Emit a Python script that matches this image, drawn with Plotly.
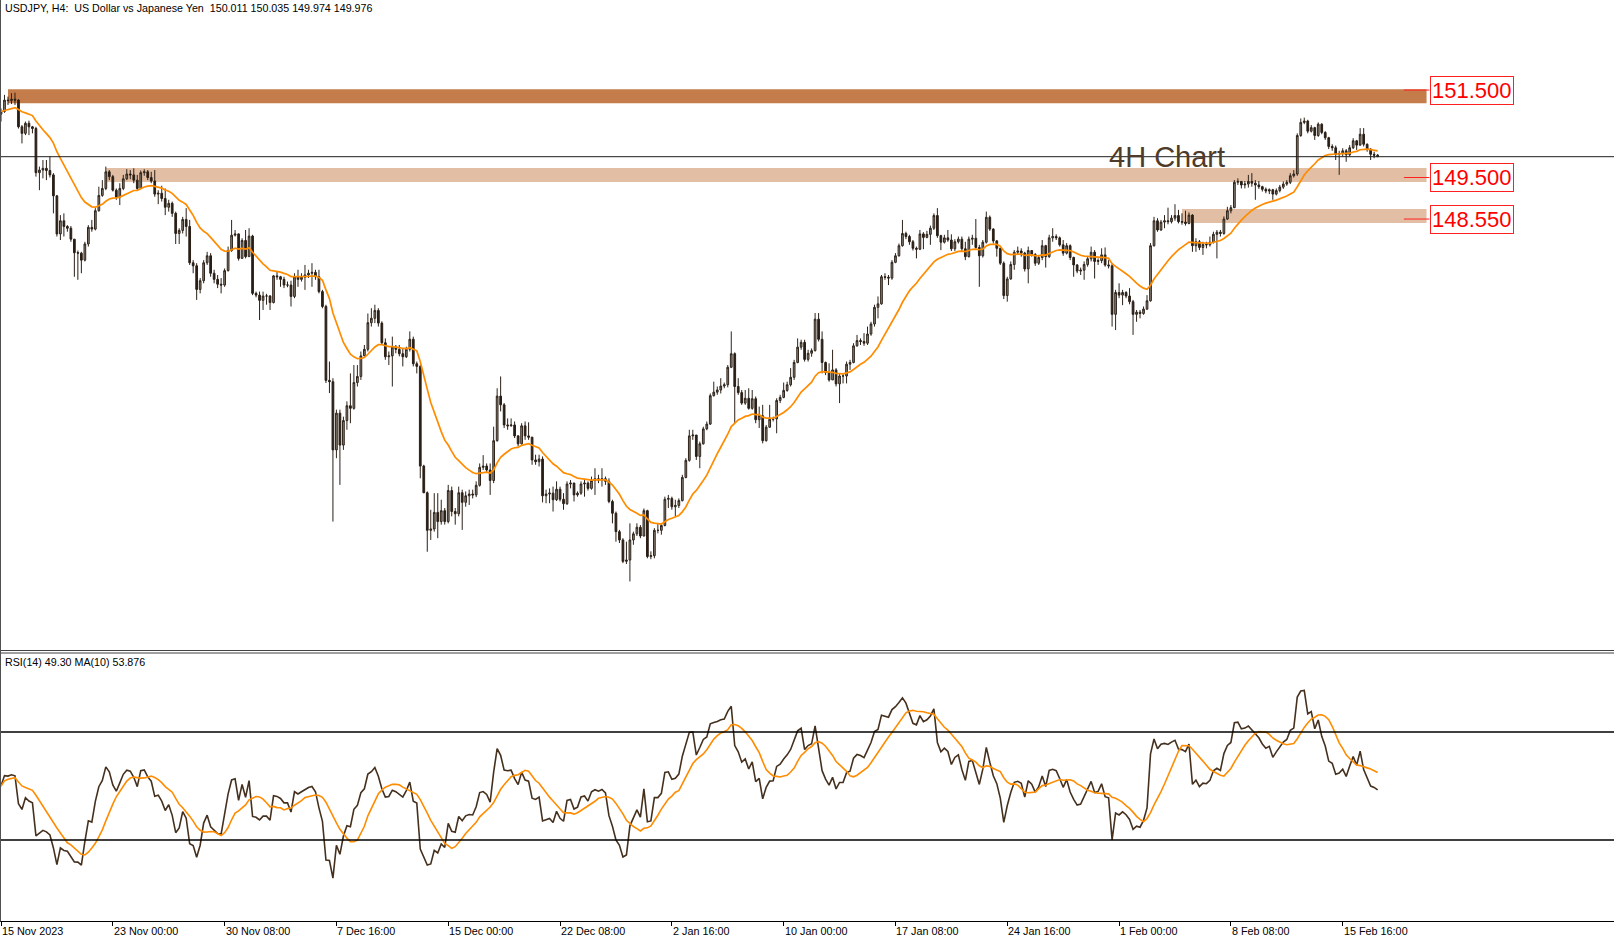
import numpy as np
import pandas as pd
import plotly.graph_objects as go

# ---------------- data ----------------
first_open = 150.95
close = [
151.01,151.27,151.26,151.29,151.27,150.66,150.51,150.74,150.66,150.62,
149.61,149.67,149.71,149.66,149.56,149.08,148.21,148.51,148.38,148.34,
148.09,147.78,147.77,147.61,147.98,148.36,148.32,148.74,149.09,149.25,
149.63,149.52,149.21,149.05,149.25,149.47,149.58,149.56,149.44,149.25,
149.61,149.63,149.50,149.42,149.12,149.14,149.02,148.82,148.91,148.68,
148.22,148.29,148.54,148.38,147.55,147.48,146.94,147.14,147.55,147.71,
147.31,147.17,147.06,147.04,147.37,147.83,148.18,148.21,147.65,148.06,
147.69,148.16,146.85,146.81,146.69,146.79,146.79,146.64,147.25,147.23,
147.17,147.04,147.04,146.78,147.23,147.17,147.22,147.27,147.31,147.33,
147.23,146.89,146.55,144.86,144.83,143.27,144.11,143.38,143.94,144.28,
144.22,144.81,144.95,145.42,145.57,146.18,146.28,146.46,146.17,145.72,
145.40,145.42,145.62,145.57,145.47,145.40,145.57,145.80,145.24,145.18,
142.90,142.29,141.43,141.46,141.84,141.63,141.88,141.63,142.34,141.86,
141.81,142.29,142.07,142.22,142.26,142.24,142.46,142.87,142.90,142.81,
142.57,143.48,144.50,144.30,143.84,143.82,143.84,143.59,143.41,143.82,
143.59,143.56,143.04,143.00,143.06,142.22,142.26,142.28,142.13,142.37,
142.14,142.04,142.49,142.51,142.24,142.28,142.49,142.51,142.39,142.57,
142.61,142.58,142.61,142.55,142.09,141.82,141.40,141.21,140.72,140.75,
141.21,141.35,141.50,141.30,141.88,140.83,140.85,141.43,141.43,141.54,
142.14,142.16,141.97,142.00,142.11,142.64,143.03,143.59,143.61,143.12,
143.41,143.75,143.86,144.51,144.59,144.64,144.73,144.76,145.16,145.47,
144.72,144.58,144.34,144.45,144.22,144.44,143.96,144.05,143.48,143.79,
143.97,143.98,144.40,144.47,144.63,144.76,144.93,145.27,145.62,145.73,
145.34,145.48,145.54,146.26,145.80,145.27,145.04,144.87,145.10,144.78,
144.96,144.96,145.23,145.27,145.65,145.77,145.75,145.71,145.92,146.15,
146.53,146.61,147.23,147.22,147.20,147.56,147.71,147.94,148.22,148.15,
148.03,147.88,147.86,148.21,148.13,148.20,148.34,148.63,148.17,148.02,
148.12,148.07,147.87,148.03,148.09,147.87,147.69,148.09,148.11,147.90,
147.71,148.02,148.59,148.32,148.05,147.88,147.54,146.80,147.18,147.51,
147.79,147.82,147.77,147.41,147.83,147.74,147.54,147.67,147.94,147.69,
148.12,148.15,148.12,147.96,147.77,147.94,147.67,147.50,147.36,147.38,
147.51,147.64,147.79,147.58,147.60,147.73,147.50,147.48,146.37,146.87,
146.81,146.87,146.79,146.66,146.37,146.42,146.39,146.49,146.68,147.94,
148.51,148.30,148.48,148.51,148.49,148.57,148.63,148.49,148.48,148.45,
148.64,147.94,148.03,147.90,147.97,147.96,148.02,148.20,148.25,148.22,
148.55,148.74,148.81,149.39,149.41,149.33,149.35,149.41,149.37,149.33,
149.29,149.23,149.19,149.22,149.12,149.20,149.28,149.35,149.39,149.54,
149.58,150.46,150.76,150.79,150.56,150.64,150.46,150.72,150.53,150.41,
150.21,150.18,150.03,150.05,150.11,150.02,150.18,150.34,150.24,150.49,
150.26,150.15,150.03,150.011,149.976]
high = [
151.08,151.39,151.35,151.43,151.44,151.29,150.70,150.78,150.80,150.68,
150.66,149.75,149.90,149.90,149.98,149.60,149.10,148.64,148.68,148.41,
148.39,148.09,147.83,147.80,148.03,148.41,148.53,148.80,149.29,149.44,
149.75,149.67,149.56,149.25,149.37,149.56,149.69,149.67,149.71,149.56,
149.66,149.69,149.67,149.63,149.67,149.21,149.31,149.25,148.99,148.95,
148.72,148.34,148.60,148.80,148.53,147.61,147.54,147.20,147.61,147.80,
147.77,147.39,147.27,147.20,147.42,147.92,148.53,148.30,148.22,148.11,
148.30,148.34,148.19,146.89,146.89,146.89,146.84,146.81,147.27,147.35,
147.25,147.23,147.12,147.14,147.31,147.39,147.31,147.50,147.39,147.54,
147.39,147.39,146.93,146.59,145.29,144.91,144.19,144.19,144.03,144.38,
145.02,145.21,145.21,145.52,145.67,146.39,146.51,146.59,146.51,146.21,
145.82,145.52,145.86,145.67,145.67,145.59,145.63,145.98,145.86,145.29,
145.21,142.93,142.32,141.90,142.28,142.28,142.13,141.94,142.47,142.43,
141.94,142.43,142.36,142.32,142.36,142.36,142.55,142.96,143.15,142.96,
142.96,143.80,144.68,144.95,144.34,143.99,143.99,143.92,143.61,143.88,
143.92,143.90,143.57,143.16,143.16,143.12,142.36,142.39,142.43,142.55,
142.43,142.28,142.55,142.58,142.52,142.32,142.55,142.58,142.55,142.66,
142.85,142.70,142.85,142.66,142.62,142.13,141.86,141.44,141.25,141.17,
141.59,141.40,141.59,141.55,141.93,141.90,140.95,141.48,141.59,141.59,
142.20,142.24,142.20,142.13,142.16,142.70,143.08,143.73,143.73,143.61,
143.46,143.80,143.92,144.56,144.83,144.72,144.91,144.81,145.21,145.98,
145.50,144.91,144.64,144.64,144.68,144.64,144.49,144.26,144.30,143.84,
144.30,144.03,144.45,144.53,144.81,144.83,145.14,145.33,145.82,145.79,
145.79,145.56,145.59,146.40,146.40,145.98,145.29,145.25,145.56,145.14,
145.02,145.02,145.29,145.33,145.71,145.90,145.82,145.94,146.09,146.20,
146.59,146.78,147.27,147.31,147.27,147.61,147.77,147.99,148.53,148.26,
148.19,148.07,147.92,148.30,148.25,148.28,148.40,148.68,148.80,148.19,
148.19,148.30,148.20,148.09,148.15,148.15,148.03,148.15,148.19,148.55,
147.96,148.07,148.72,148.63,148.34,148.07,147.90,147.58,147.23,147.58,
147.84,147.92,147.88,147.80,147.92,147.84,147.77,147.73,148.07,147.96,
148.19,148.34,148.20,148.15,148.07,148.00,147.97,147.69,147.52,147.44,
147.58,147.69,147.92,147.84,147.65,147.88,147.90,147.61,147.54,146.93,
147.08,146.93,146.90,146.97,146.70,146.47,146.47,146.55,146.81,148.00,
148.60,148.57,148.53,148.64,148.81,148.64,148.89,148.76,148.68,148.74,
148.70,148.66,148.11,148.07,148.03,148.03,148.15,148.26,148.30,148.30,
148.61,148.83,148.87,149.44,149.48,149.42,149.42,149.56,149.60,149.44,
149.42,149.31,149.27,149.25,149.24,149.25,149.33,149.41,149.44,149.60,
149.67,150.51,150.85,150.87,150.82,150.70,150.66,150.76,150.74,150.56,
150.43,150.26,150.23,150.11,150.17,150.15,150.24,150.40,150.36,150.63,
150.63,150.28,150.17,150.09,150.035]
low = [
150.78,150.98,151.16,151.18,151.16,150.62,150.28,150.47,150.47,150.51,
149.52,149.21,149.48,149.44,149.50,148.68,148.15,148.07,148.15,148.26,
148.03,147.23,147.16,147.31,147.58,147.92,148.26,148.29,148.72,149.06,
149.21,149.44,149.18,148.99,148.87,149.21,149.44,149.46,149.37,149.21,
149.25,149.54,149.44,149.37,149.06,148.89,148.95,148.64,148.72,148.60,
147.98,147.98,148.22,148.15,147.50,147.31,146.70,146.85,147.08,147.50,
147.23,147.08,146.97,146.85,147.00,147.35,147.80,148.15,147.60,147.65,
147.65,147.69,146.81,146.76,146.24,146.47,146.59,146.47,146.62,147.16,
147.00,146.97,146.99,146.55,146.74,147.00,147.12,146.93,147.20,147.00,
147.16,146.85,146.51,144.80,144.57,141.63,143.08,142.47,143.27,143.73,
143.88,144.19,144.72,144.87,145.41,145.52,146.09,146.17,146.09,145.67,
145.33,145.21,144.72,145.48,145.41,145.18,145.37,145.52,145.18,145.02,
142.62,142.28,140.94,141.21,141.40,141.25,141.56,141.56,141.59,141.75,
141.56,141.75,141.44,141.97,142.01,142.16,142.19,142.43,142.81,142.74,
142.24,142.51,143.46,144.15,143.77,143.73,143.80,143.54,143.35,143.39,
143.50,143.50,142.93,142.93,142.89,142.07,142.05,142.05,141.86,142.10,
142.09,141.90,142.01,142.39,142.09,142.20,142.24,142.20,142.34,142.36,
142.24,142.51,142.43,142.47,142.05,141.59,141.17,141.14,140.68,140.66,
140.26,141.10,141.30,141.25,141.29,140.79,140.77,140.79,141.36,141.33,
141.52,141.94,141.90,141.75,141.94,142.09,142.62,143.00,143.50,143.04,
142.85,143.39,143.72,143.84,144.49,144.53,144.56,144.68,144.70,145.14,
143.88,144.53,144.30,144.30,144.19,144.19,143.88,143.77,143.42,143.46,
143.77,143.92,143.65,144.34,144.45,144.60,144.72,144.87,145.25,145.56,
145.29,145.29,145.40,145.52,145.75,145.02,144.98,144.83,144.87,144.72,
144.34,144.79,144.79,145.10,145.25,145.63,145.67,145.65,145.67,145.88,
146.09,146.28,146.59,147.16,147.04,147.16,147.54,147.69,147.92,148.09,
147.96,147.83,147.65,147.84,147.86,148.11,147.96,148.30,148.12,147.84,
147.99,148.03,147.82,147.82,147.99,147.82,147.61,147.67,147.96,147.87,
147.00,147.67,147.99,148.28,147.99,147.69,147.50,146.72,146.66,147.16,
147.39,147.74,147.69,147.35,147.08,147.69,147.48,147.50,147.61,147.44,
147.66,148.03,148.07,147.92,147.71,147.74,147.61,147.23,147.31,147.27,
147.16,147.46,147.58,147.19,147.50,147.54,147.46,147.42,146.09,146.01,
146.74,146.58,146.74,146.60,145.90,146.20,146.28,146.36,146.47,146.66,
147.92,148.26,148.28,148.34,148.43,148.45,148.51,148.45,148.42,148.40,
148.43,147.80,147.80,147.84,147.73,147.88,147.92,147.99,147.65,148.15,
148.19,148.53,148.68,148.80,149.33,149.25,149.25,149.27,149.29,148.99,
149.24,149.18,149.14,149.12,148.99,149.09,149.16,149.24,149.31,149.35,
149.50,149.54,150.43,150.72,150.51,150.53,150.36,150.43,150.49,150.36,
150.15,150.11,149.90,149.56,149.98,149.86,149.98,150.15,150.13,150.23,
150.21,150.09,149.90,149.94,149.974]

# trading calendar (H4 bars, weekends and the 25 Dec / 1 Jan holidays removed)
first_bar = "2023-11-15 16:00"
holidays = ["2023-12-25", "2024-01-01"]
tick_every = 32

# drawn support / resistance zones and price labels
zone_lo = [151.20, 149.40, 148.46]
zone_hi = [151.52, 149.72, 148.78]
zone_start = [2, 30, 338]
zone_end = 408
label_levels = [151.5, 149.5, 148.55]
label_texts = ["151.500", "149.500", "148.550"]

title_text = "USDJPY, H4:\u00a0\u00a0US Dollar vs Japanese Yen\u00a0\u00a0150.011 150.035 149.974 149.976"
rsi_text = "RSI(14) 49.30 MA(10) 53.876"
chart_note = "4H Chart"

# ---------------- derived series ----------------
n = len(close)
idx = list(range(n))
opens = [first_open] + close[:-1]

cal = pd.date_range(first_bar, periods=n * 3, freq="4h")
cal = cal[(cal.weekday < 5) & (~cal.normalize().isin(pd.to_datetime(holidays)))][:n]
tick_idx = list(range(0, n, tick_every))
tick_txt = []
for k in tick_idx:
    t = cal[k]
    tick_txt.append(t.strftime("%d %b %Y").lstrip("0") if k == 0 else
                    f"{t.day} {t.strftime('%b %H:%M')}")

cs = pd.Series(close)
ema = cs.ewm(span=20, adjust=False).mean()

c = np.array(close)
d = np.diff(c, prepend=c[0])
gains = np.clip(d, 0, None)
losses = np.clip(-d, 0, None)
seed = np.mean(np.abs(d[1:])) / 2
ag, al = seed, seed
rsi = []
for i in range(n):
    if i > 0:
        ag = (ag * 13 + gains[i]) / 14
        al = (al * 13 + losses[i]) / 14
    rsi.append(100 * ag / (ag + al))
rsi_ma = pd.Series(rsi).rolling(10, min_periods=1).mean()

# ---------------- figure ----------------
W, H = 1614, 941
PX_PER_BAR = 3.494
xr = [-1 / PX_PER_BAR, (W - 1) / PX_PER_BAR]
main_bottom_px = 651
rsi_bottom_px = 921


def py(px):
    return 1 - px / H


fig = go.Figure()
fig.add_trace(go.Candlestick(
    x=idx, open=opens, high=high, low=low, close=close,
    xaxis="x", yaxis="y",
    increasing=dict(line=dict(color="#2E241B", width=1), fillcolor="#8C8277"),
    decreasing=dict(line=dict(color="#2A1F16", width=1), fillcolor="#2A1F16"),
    whiskerwidth=0, hoverinfo="skip", showlegend=False))
fig.add_trace(go.Scatter(x=idx, y=ema, mode="lines", xaxis="x", yaxis="y",
                         line=dict(color="#FF8C00", width=1.7), hoverinfo="skip",
                         showlegend=False))
fig.add_trace(go.Scatter(x=idx, y=rsi, mode="lines", xaxis="x2", yaxis="y2",
                         line=dict(color="#45301E", width=1.6), hoverinfo="skip",
                         showlegend=False))
fig.add_trace(go.Scatter(x=idx, y=rsi_ma, mode="lines", xaxis="x2", yaxis="y2",
                         line=dict(color="#FF8C00", width=1.6), hoverinfo="skip",
                         showlegend=False))

shapes = []
zone_colors = ["#C47D4A", "#E2BFA4", "#E2BFA4"]
for lo, hi, st, col in zip(zone_lo, zone_hi, zone_start, zone_colors):
    shapes.append(dict(type="rect", xref="x", yref="y", x0=st, x1=zone_end,
                       y0=lo, y1=hi, fillcolor=col, line=dict(width=0),
                       layer="below"))
for lv in label_levels:
    shapes.append(dict(type="line", xref="x", yref="y", x0=401.5, x1=408.8,
                       y0=lv, y1=lv, line=dict(color="#FF2020", width=1)))
# bid line
shapes.append(dict(type="line", xref="paper", yref="y", x0=0, x1=1,
                   y0=close[-1], y1=close[-1], line=dict(color="#1E1E1E", width=1)))
# RSI levels
for lv in (70, 30):
    shapes.append(dict(type="line", xref="paper", yref="y2", x0=0, x1=1,
                       y0=lv, y1=lv, line=dict(color="#000000", width=1.6)))
# panel separators, bottom axis line, left border
for ypx in (650.5, 653):
    shapes.append(dict(type="line", xref="paper", yref="paper", x0=0, x1=1,
                       y0=py(ypx), y1=py(ypx), line=dict(color="#404040", width=1)))
shapes.append(dict(type="line", xref="paper", yref="paper", x0=0, x1=1,
                   y0=py(921.5), y1=py(921.5), line=dict(color="#000000", width=1)))
shapes.append(dict(type="line", xref="paper", yref="paper", x0=0.5 / W, x1=0.5 / W,
                   y0=py(0), y1=py(921.5), line=dict(color="#505050", width=1)))

FONT = "Liberation Sans, Arial, sans-serif"
ann = []
ann.append(dict(text=title_text, xref="paper", yref="paper", x=3 / W, y=py(8),
                xanchor="left", yanchor="middle", showarrow=False,
                font=dict(family=FONT, size=10.7, color="#000000")))
ann.append(dict(text=rsi_text, xref="paper", yref="paper", x=3 / W, y=py(662),
                xanchor="left", yanchor="middle", showarrow=False,
                font=dict(family=FONT, size=10.7, color="#000000")))
ann.append(dict(text=chart_note, xref="paper", yref="paper", x=1107 / W, y=py(157),
                xanchor="left", yanchor="middle", showarrow=False,
                font=dict(family=FONT, size=29, color="#4E3B29")))
for lv, tx in zip(label_levels, label_texts):
    ann.append(dict(text=tx, xref="x", yref="y", x=408.9, y=lv,
                    xanchor="left", yanchor="middle", showarrow=False,
                    bgcolor="#FFFFFF", bordercolor="#FF2020", borderwidth=1,
                    borderpad=1, font=dict(family=FONT, size=22, color="#FF0000")))
for k, tx in zip(tick_idx, tick_txt):
    ann.append(dict(text=tx, xref="x2", yref="paper", x=k, y=py(931),
                    xanchor="left", yanchor="middle", showarrow=False, xshift=-1,
                    font=dict(family=FONT, size=10.8, color="#000000")))

fig.update_layout(
    width=W, height=H, margin=dict(l=0, r=0, t=0, b=0),
    paper_bgcolor="#FFFFFF", plot_bgcolor="#FFFFFF",
    xaxis=dict(domain=[0, 1], range=xr, anchor="y", visible=False,
               rangeslider=dict(visible=False), fixedrange=True),
    yaxis=dict(domain=[py(main_bottom_px), 1], range=[138.67, 153.56],
               visible=False, fixedrange=True),
    xaxis2=dict(domain=[0, 1], range=xr, anchor="y2", showgrid=False,
                zeroline=False, showline=False, showticklabels=False,
                ticks="outside", ticklen=4, tickwidth=1, tickcolor="#000000",
                tickmode="array", tickvals=tick_idx, fixedrange=True),
    yaxis2=dict(domain=[py(rsi_bottom_px), py(main_bottom_px)], range=[0, 100],
                visible=False, fixedrange=True),
    shapes=shapes, annotations=ann, showlegend=False,
)
fig.write_html(
    "out.html", config={"displayModeBar": False},
    post_script="document.body.style.margin='0';document.body.style.padding='0';"
                "document.body.style.overflow='hidden';")
